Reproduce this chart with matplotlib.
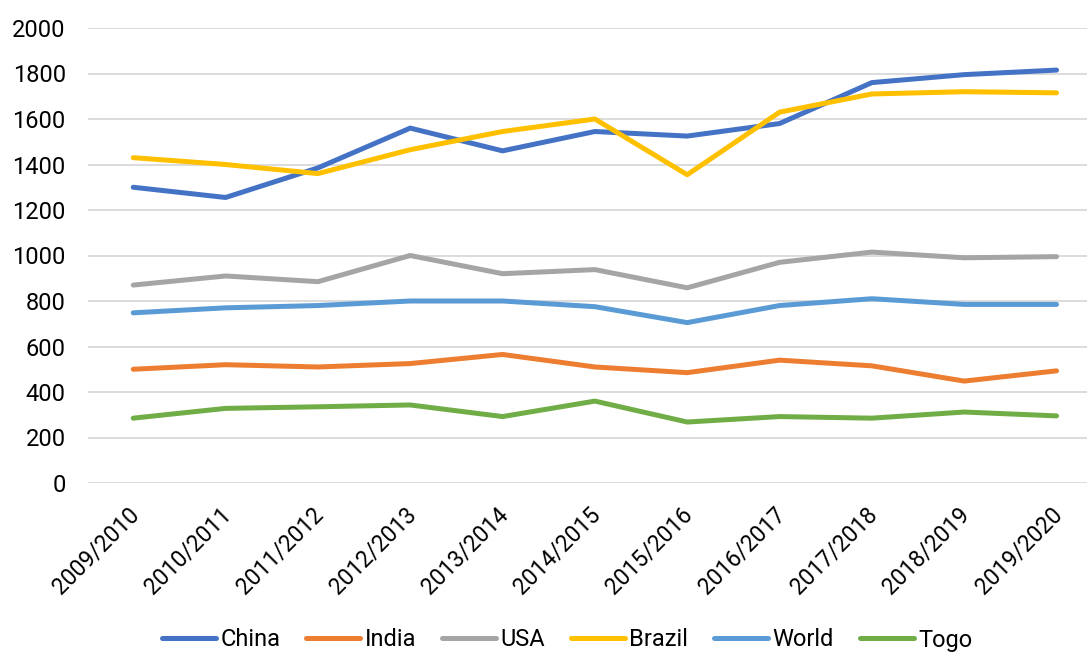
import matplotlib
matplotlib.use("Agg")
import matplotlib.pyplot as plt
import matplotlib.transforms as mtransforms

seasons = ["2009/2010", "2010/2011", "2011/2012", "2012/2013", "2013/2014", "2014/2015",
           "2015/2016", "2016/2017", "2017/2018", "2018/2019", "2019/2020"]
china = [1300, 1255, 1385, 1560, 1460, 1545, 1525, 1580, 1760, 1795, 1815]
india = [500, 520, 510, 525, 565, 510, 485, 540, 515, 448, 493]
usa = [870, 910, 885, 1000, 920, 938, 858, 970, 1015, 990, 995]
brazil = [1430, 1400, 1360, 1465, 1545, 1600, 1355, 1630, 1710, 1720, 1715]
world = [748, 770, 780, 800, 800, 775, 705, 780, 810, 785, 785]
togo = [285, 328, 335, 343, 292, 360, 268, 292, 285, 312, 295]

series = [("China", china, "#4472C4"), ("India", india, "#ED7D31"), ("USA", usa, "#A5A5A5"),
          ("Brazil", brazil, "#FFC000"), ("World", world, "#5B9BD5"), ("Togo", togo, "#70AD47")]

plt.rcParams['font.family'] = ['Roboto', 'DejaVu Sans']

fig = plt.figure(figsize=(10.9, 6.52), dpi=100)
ax = fig.add_axes([88/1090, (652-483)/652, 999/1090, 455/652])

x = list(range(len(seasons)))
for name, vals, col in series:
    ax.plot(x, vals, color=col, lw=3.6, label=name, solid_capstyle='round', solid_joinstyle='round')

ax.set_ylim(0, 2000)
ax.set_xlim(-0.49, 10.33)
ax.set_yticks(range(0, 2001, 200))
ax.yaxis.grid(True, color="#D9D9D9", lw=1.3)
ax.set_axisbelow(True)
for s in ax.spines.values():
    s.set_visible(False)
ax.tick_params(axis='both', length=0, labelsize=17, colors="#000000")
ax.tick_params(axis='y', pad=16)
ax.set_xticks(x)
ax.set_xticklabels(seasons, rotation=45, ha='right', va='center', rotation_mode='anchor', fontsize=16.5)
ax.tick_params(axis='x', pad=20)
offset = mtransforms.ScaledTranslation(2/100, 0, fig.dpi_scale_trans)
for lbl in ax.get_xticklabels():
    lbl.set_transform(lbl.get_transform() + offset)

leg = fig.legend(loc='center', bbox_to_anchor=(567/1090, 1-640/652), ncol=6, frameon=False,
                 fontsize=17, handlelength=2.3, handletextpad=0.17, columnspacing=1.1)

fig.savefig("out.png", dpi=100)
